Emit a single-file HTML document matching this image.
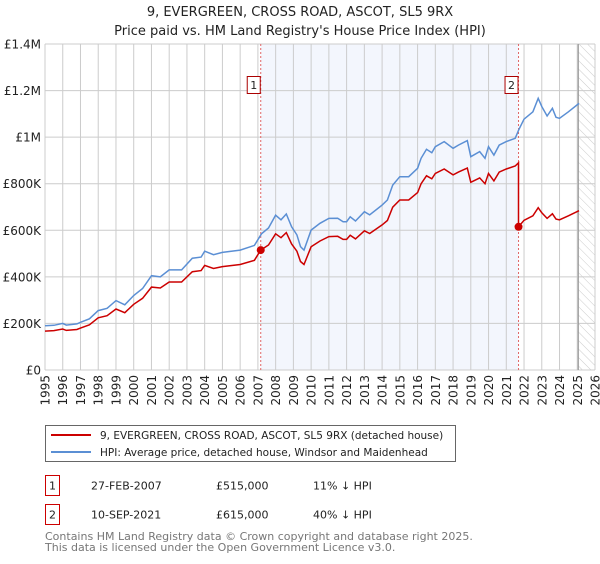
<!DOCTYPE html>
<html><head><meta charset="utf-8"><style>
body{margin:0;background:#fff;font-family:"DejaVu Sans","Liberation Sans",sans-serif;}
</style></head><body>
<svg id="chart" width="600" height="560" xmlns="http://www.w3.org/2000/svg" font-family="DejaVu Sans, Liberation Sans, sans-serif">
<defs><pattern id="hatch" width="6" height="6" patternUnits="userSpaceOnUse" patternTransform="rotate(-45)"><line x1="0" y1="0" x2="0" y2="6" stroke="#ccc" stroke-width="1"/></pattern></defs>
<text x="300" y="16" text-anchor="middle" font-size="13" fill="#222">9, EVERGREEN, CROSS ROAD, ASCOT, SL5 9RX</text>
<text x="300" y="35" text-anchor="middle" font-size="13" fill="#222">Price paid vs. HM Land Registry's House Price Index (HPI)</text>
<g id="plot"></g>
<g>
<rect x="45.5" y="425.5" width="410" height="36" fill="#fff" stroke="#666"/>
<line x1="51" y1="435" x2="91" y2="435" stroke="#cc0000" stroke-width="2"/>
<text x="100" y="439" font-size="10.5" fill="#222">9, EVERGREEN, CROSS ROAD, ASCOT, SL5 9RX (detached house)</text>
<line x1="51" y1="452" x2="91" y2="452" stroke="#5b8fd4" stroke-width="2"/>
<text x="100" y="456" font-size="10.5" fill="#222">HPI: Average price, detached house, Windsor and Maidenhead</text>
</g>
<g font-size="11" fill="#222">
<rect x="45.5" y="475.5" width="14" height="20" fill="#fff" stroke="#cc0000"/>
<text x="52.5" y="489.5" text-anchor="middle">1</text>
<text x="91" y="489.5">27-FEB-2007</text><text x="216" y="489.5">£515,000</text><text x="313" y="489.5">11% ↓ HPI</text>
<rect x="45.5" y="504.5" width="14" height="20" fill="#fff" stroke="#cc0000"/>
<text x="52.5" y="518.5" text-anchor="middle">2</text>
<text x="91" y="518.5">10-SEP-2021</text><text x="216" y="518.5">£615,000</text><text x="313" y="518.5">40% ↓ HPI</text>
</g>
<g font-size="11" fill="#777">
<text x="45" y="540">Contains HM Land Registry data © Crown copyright and database right 2025.</text>
<text x="45" y="551">This data is licensed under the Open Government Licence v3.0.</text>
</g>
</svg>
<script>
const hpiYears=[1995,1995.5,1996,1996.2,1996.8,1997,1997.5,1998,1998.5,1999,1999.5,2000,2000.5,2001,2001.5,2002,2002.7,2003.3,2003.8,2004,2004.5,2005,2006,2006.8,2007.2,2007.6,2008,2008.3,2008.6,2008.9,2009.2,2009.4,2009.6,2010,2010.5,2011,2011.5,2011.8,2012,2012.2,2012.5,2013,2013.3,2014,2014.3,2014.6,2015,2015.5,2016,2016.2,2016.5,2016.8,2017,2017.5,2018,2018.3,2018.8,2019,2019.5,2019.8,2020,2020.3,2020.6,2021,2021.5,2021.7,2022,2022.5,2022.8,2023,2023.3,2023.6,2023.8,2024,2024.5,2025.1];
const hpiValues=[190,192,200,193,198,205,220,255,265,298,280,320,350,405,400,430,430,480,485,510,495,505,515,535,585,610,665,645,670,615,580,530,515,601,630,651,652,637,637,658,640,680,666,708,730,794,830,830,866,909,948,933,959,981,952,966,985,916,938,909,959,923,966,981,995,1031,1077,1109,1167,1131,1091,1124,1085,1081,1109,1145];
const redYears=[1995,1995.5,1996,1996.2,1996.8,1997,1997.5,1998,1998.5,1999,1999.5,2000,2000.5,2001,2001.5,2002,2002.7,2003.3,2003.8,2004,2004.5,2005,2006,2006.8,2007.16,2007.6,2008,2008.3,2008.6,2008.9,2009.2,2009.4,2009.6,2010,2010.5,2011,2011.5,2011.8,2012,2012.2,2012.5,2013,2013.3,2014,2014.3,2014.6,2015,2015.5,2016,2016.2,2016.5,2016.8,2017,2017.5,2018,2018.3,2018.8,2019,2019.5,2019.8,2020,2020.3,2020.6,2021,2021.5,2021.69,2021.69,2022,2022.5,2022.8,2023,2023.3,2023.6,2023.8,2024,2024.5,2025.1];
const redValues=[167,169,176,170,174,180,194,224,233,262,246,282,308,356,352,378,378,422,427,449,436,444,453,471,515,537,585,568,590,541,510,466,453,529,554,573,574,561,561,579,563,598,586,623,642,699,730,730,762,800,834,821,844,863,838,850,867,806,825,800,844,812,850,863,876,890,615,643,662,697,675,651,671,648,645,662,684];
const saleYears=[2007.16,2021.69];
const saleValues=[515,615];
const saleLabels=["1","2"];
const yTicks=[0,200,400,600,800,1000,1200,1400];
const yTickLabels=["£0","£200K","£400K","£600K","£800K","£1M","£1.2M","£1.4M"];
const xTicks=[1995,1996,1997,1998,1999,2000,2001,2002,2003,2004,2005,2006,2007,2008,2009,2010,2011,2012,2013,2014,2015,2016,2017,2018,2019,2020,2021,2022,2023,2024,2025,2026];

const L=45,R=595,T=44,B=370;
const x=v=>L+(v-1995)/(2026-1995)*(R-L);
const y=v=>B-v/1400*(B-T);
const g=document.getElementById('plot');
const NS='http://www.w3.org/2000/svg';
function mk(tag,attrs,parent){const e=document.createElementNS(NS,tag);for(const k in attrs)e.setAttribute(k,attrs[k]);(parent||g).appendChild(e);return e;}

let e=mk('rect',{x:x(saleYears[0]),y:T,width:x(saleYears[1])-x(saleYears[0]),height:B-T,fill:'#f3f6fd'});


e=mk('rect',{x:x(2025),y:T,width:R-x(2025),height:B-T,fill:'url(#hatch)'});



xTicks.forEach((t,i)=>{
  let l=mk('line',{x1:x(t),x2:x(t),y1:T,y2:B,stroke:'#ccc','stroke-width':1});
  
  
  let tx=mk('text',{x:0,y:0,transform:`translate(${x(t)+4.5},${B+5}) rotate(-90)`,'text-anchor':'end','font-size':12,fill:'#222'});
  tx.textContent=t;
  
  
});
yTicks.forEach((t,i)=>{
  let l=mk('line',{x1:L,x2:R,y1:y(t),y2:y(t),stroke:'#ccc','stroke-width':1});
  
  
  let tx=mk('text',{x:L-4,y:y(t)+4.5,'text-anchor':'end','font-size':12,fill:'#222'});
  tx.textContent=yTickLabels[i];
  
  
});
e=mk('line',{x1:x(2025)+1,x2:x(2025)+1,y1:T,y2:B,stroke:'#999','stroke-width':1.2});



saleYears.forEach((s,i)=>{
  let l=mk('line',{x1:x(s),x2:x(s),y1:T,y2:B,stroke:'#e06666','stroke-width':1,'stroke-dasharray':'2,2'});
  
  
  let r=mk('rect',{x:x(s)-13.5,y:76.5,width:13,height:17,fill:'#fff',stroke:'#aa0000'});
  
  
  let tx=mk('text',{x:x(s)-7,y:89,'text-anchor':'middle','font-size':11,fill:'#222'});
  tx.textContent=saleLabels[i];
  
  
});

function path(xs,vs){return xs.map((v,i)=>(i?'L':'M')+x(v).toFixed(1)+','+y(vs[i]).toFixed(1)).join('');}
e=mk('path',{d:path(hpiYears,hpiValues),fill:'none',stroke:'#5b8fd4','stroke-width':1.5});


e=mk('path',{d:path(redYears,redValues),fill:'none',stroke:'#cc0000','stroke-width':1.5});


saleYears.forEach((s,i)=>{
  let c=mk('circle',{cx:x(s),cy:y(saleValues[i]),r:4,fill:'#cc0000'});
  
  
});
</script>
</body></html>
